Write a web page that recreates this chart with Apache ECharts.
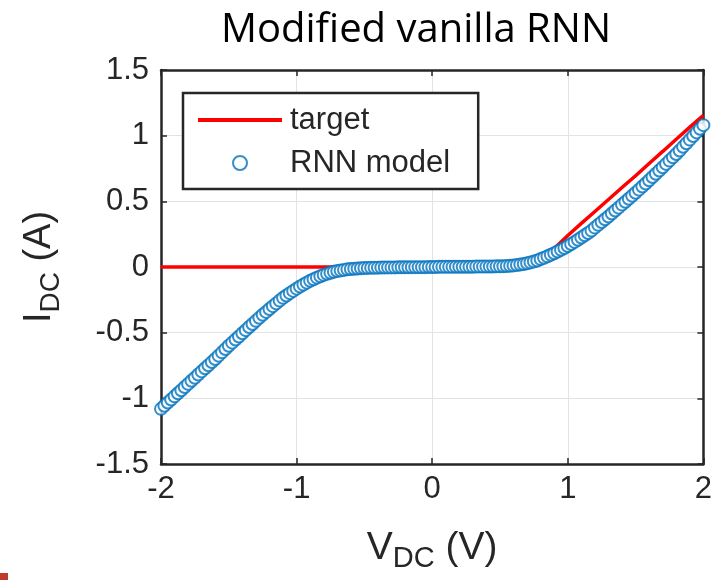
<!DOCTYPE html>
<html><head><meta charset="utf-8">
<script src="https://cdn.jsdelivr.net/npm/echarts@6/dist/echarts.min.js"></script>
<style>html,body{margin:0;padding:0;background:#fff}#c{width:715px;height:580px}</style>
</head><body><div id="c"></div>
<script>
// ---- data ----
const titleText = 'Modified vanilla RNN';
const xTicks = [-2, -1, 0, 1, 2];
const yTicks = [-1.5, -1, -0.5, 0, 0.5, 1, 1.5];

const targetV = [-2, -1.5, -1, -0.5, 0, 0.5, 0.6, 0.65, 0.7, 0.75, 0.8, 0.85, 0.9, 0.95, 1.0, 1.1, 1.2, 1.3, 1.4, 1.5, 1.6, 1.7, 1.8, 1.9, 2.0];
const targetI = [0, 0, 0, 0, 0, 0, 0, 0.002, 0.008, 0.025, 0.055, 0.095, 0.14, 0.19, 0.24, 0.332, 0.423, 0.514, 0.605, 0.695, 0.788, 0.88, 0.973, 1.065, 1.155];

const modelV = [
 -2.000,-1.975,-1.950,-1.925,-1.900,-1.875,-1.850,-1.825,
 -1.800,-1.775,-1.750,-1.725,-1.700,-1.675,-1.650,-1.625,
 -1.600,-1.575,-1.550,-1.525,-1.500,-1.475,-1.450,-1.425,
 -1.400,-1.375,-1.350,-1.325,-1.300,-1.275,-1.250,-1.225,
 -1.200,-1.175,-1.150,-1.125,-1.100,-1.075,-1.050,-1.025,
 -1.000,-0.975,-0.950,-0.925,-0.900,-0.875,-0.850,-0.825,
 -0.800,-0.775,-0.750,-0.725,-0.700,-0.675,-0.650,-0.625,
 -0.600,-0.575,-0.550,-0.525,-0.500,-0.475,-0.450,-0.425,
 -0.400,-0.375,-0.350,-0.325,-0.300,-0.275,-0.250,-0.225,
 -0.200,-0.175,-0.150,-0.125,-0.100,-0.075,-0.050,-0.025,
  0.000, 0.025, 0.050, 0.075, 0.100, 0.125, 0.150, 0.175,
  0.200, 0.225, 0.250, 0.275, 0.300, 0.325, 0.350, 0.375,
  0.400, 0.425, 0.450, 0.475, 0.500, 0.525, 0.550, 0.575,
  0.600, 0.625, 0.650, 0.675, 0.700, 0.725, 0.750, 0.775,
  0.800, 0.825, 0.850, 0.875, 0.900, 0.925, 0.950, 0.975,
  1.000, 1.025, 1.050, 1.075, 1.100, 1.125, 1.150, 1.175,
  1.200, 1.225, 1.250, 1.275, 1.300, 1.325, 1.350, 1.375,
  1.400, 1.425, 1.450, 1.475, 1.500, 1.525, 1.550, 1.575,
  1.600, 1.625, 1.650, 1.675, 1.700, 1.725, 1.750, 1.775,
  1.800, 1.825, 1.850, 1.875, 1.900, 1.925, 1.950, 1.975,
  2.000];
const modelI = [
 -1.080,-1.056,-1.032,-1.009,-0.985,-0.961,-0.938,-0.914,
 -0.890,-0.866,-0.843,-0.819,-0.795,-0.771,-0.748,-0.724,
 -0.700,-0.675,-0.650,-0.625,-0.600,-0.576,-0.552,-0.529,
 -0.505,-0.481,-0.457,-0.434,-0.410,-0.387,-0.364,-0.342,
 -0.320,-0.298,-0.277,-0.256,-0.235,-0.217,-0.199,-0.182,
 -0.165,-0.149,-0.134,-0.119,-0.105,-0.093,-0.081,-0.070,
 -0.060,-0.052,-0.044,-0.037,-0.030,-0.026,-0.022,-0.018,
 -0.015,-0.013,-0.011,-0.009,-0.008,-0.007,-0.006,-0.006,
 -0.005,-0.004,-0.004,-0.003,-0.003,-0.003,-0.002,-0.002,
 -0.002,-0.002,-0.001,-0.001,-0.001,-0.001,-0.001, 0.000,
  0.000, 0.000, 0.001, 0.001, 0.001, 0.001, 0.001, 0.002,
  0.002, 0.002, 0.002, 0.002, 0.002, 0.003, 0.003, 0.003,
  0.003, 0.004, 0.004, 0.005, 0.005, 0.006, 0.008, 0.010,
  0.012, 0.015, 0.019, 0.023, 0.028, 0.035, 0.042, 0.050,
  0.060, 0.070, 0.081, 0.093, 0.105, 0.118, 0.131, 0.145,
  0.160, 0.175, 0.191, 0.208, 0.225, 0.242, 0.259, 0.277,
  0.300, 0.321, 0.342, 0.364, 0.385, 0.407, 0.430, 0.452,
  0.475, 0.497, 0.520, 0.542, 0.565, 0.589, 0.613, 0.636,
  0.660, 0.685, 0.710, 0.735, 0.760, 0.785, 0.810, 0.835,
  0.860, 0.887, 0.915, 0.942, 0.970, 0.997, 1.025, 1.052,
  1.080];

// ---- chart ----
const chart = echarts.init(document.getElementById('c'), null, {renderer: 'canvas'});
const axisCol = '#262626';
const tickFont = {color: axisCol, fontFamily: 'Liberation Sans', fontSize: 31};
const fmt = v => (Math.abs(v) < 1e-9 ? '0' : String(v));

const xBase = {
  type: 'value', min: xTicks[0], max: xTicks[xTicks.length - 1], interval: 1,
  axisLine: {show: true, onZero: false, lineStyle: {color: axisCol, width: 2.5}},
  axisTick: {show: true, inside: true, length: 6, lineStyle: {color: axisCol, width: 1.5}},
};
const yBase = {
  type: 'value', min: yTicks[0], max: yTicks[yTicks.length - 1], interval: 0.5,
  axisLine: {show: true, onZero: false, lineStyle: {color: axisCol, width: 2.5}},
  axisTick: {show: true, inside: true, length: 6, lineStyle: {color: axisCol, width: 1.5}},
};

chart.setOption({
  animation: false,
  backgroundColor: '#fff',
  title: {
    text: titleText, left: 411, top: 6, textAlign: 'center',
    textStyle: {fontFamily: 'Open Sans', fontWeight: 'normal', fontSize: 40, color: '#000'}
  },
  grid: {left: 161, right: 9, top: 70, bottom: 116, containLabel: false},
  legend: {
    left: 183, top: 93, orient: 'vertical',
    itemWidth: 84, itemHeight: 14, itemGap: 9,
    padding: [10, 28, 9, 15],
    borderColor: axisCol, borderWidth: 2.5, backgroundColor: '#fff',
    textStyle: {fontFamily: 'Liberation Sans', fontSize: 31, lineHeight: 34, color: axisCol, padding: [0, 0, 0, 3]},
    data: [
      {name: 'target', icon: 'path://M0,0L84,0L84,4L0,4Z', itemStyle: {color: '#ff0000'}},
      {name: 'RNN model'}
    ]
  },
  xAxis: [
    Object.assign({}, xBase, {
      position: 'bottom',
      name: '{a|V}{s|DC}{a| (V)}', nameLocation: 'middle', nameGap: 62,
      nameTextStyle: {rich: {
        a: {fontFamily: 'Liberation Sans', fontSize: 39, color: axisCol, lineHeight: 44},
        s: {fontFamily: 'Liberation Sans', fontSize: 29, color: axisCol, padding: [22, 0, 0, 0], lineHeight: 44}
      }},
      axisLabel: Object.assign({margin: 10, formatter: fmt}, tickFont),
      splitLine: {show: true, lineStyle: {color: '#e3e3e3', width: 1}}
    }),
    Object.assign({}, xBase, {position: 'top', axisLabel: {show: false}, splitLine: {show: false}})
  ],
  yAxis: [
    Object.assign({}, yBase, {
      position: 'left',
      name: '{a|I}{s|DC}{a| (A)}', nameLocation: 'middle', nameGap: 99, nameRotate: 90,
      nameTextStyle: {rich: {
        a: {fontFamily: 'Liberation Sans', fontSize: 38, color: axisCol, lineHeight: 44},
        s: {fontFamily: 'Liberation Sans', fontSize: 28, color: axisCol, padding: [22, 0, 0, 0], lineHeight: 44}
      }},
      axisLabel: Object.assign({margin: 12, formatter: fmt}, tickFont),
      splitLine: {show: true, lineStyle: {color: '#e3e3e3', width: 1}}
    }),
    Object.assign({}, yBase, {position: 'right', axisLabel: {show: false}, splitLine: {show: false}})
  ],
  graphic: [
    {type: 'rect', left: 0, top: 573, shape: {width: 8, height: 7}, style: {fill: '#c0392b'}, silent: true}
  ],
  series: [
    {
      name: 'target', type: 'line', showSymbol: false, symbol: 'none',
      data: targetV.map((v, i) => [v, targetI[i]]),
      lineStyle: {color: '#ff0000', width: 3.5}, itemStyle: {color: '#ff0000'}, z: 2
    },
    {
      name: 'RNN model', type: 'scatter', symbol: 'emptyCircle', symbolSize: 12,
      data: modelV.map((v, i) => [v, modelI[i]]),
      itemStyle: {color: '#0072BD', borderColor: '#0072BD', borderWidth: 2}, z: 3
    }
  ]
});
</script></body></html>
